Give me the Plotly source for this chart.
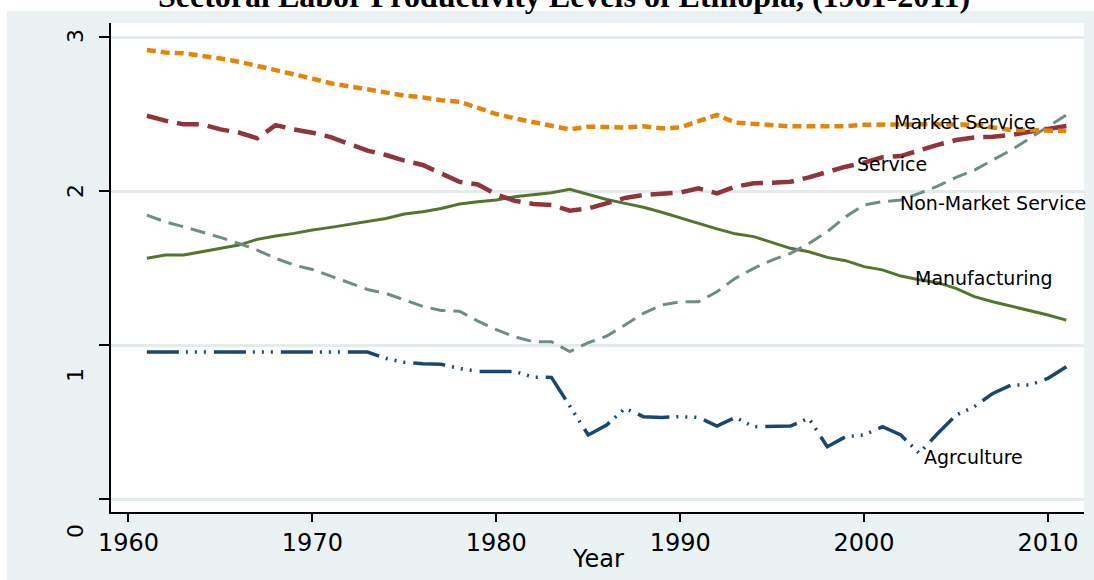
import plotly.graph_objects as go

years = list(range(1961, 2012))

market_service = [2.916, 2.900, 2.894, 2.880, 2.861, 2.840, 2.814, 2.786, 2.760, 2.730,
                  2.700, 2.680, 2.656, 2.634, 2.620, 2.608, 2.590, 2.580, 2.537, 2.500,
                  2.472, 2.448, 2.424, 2.400, 2.418, 2.413, 2.413, 2.420, 2.407, 2.413,
                  2.450, 2.494, 2.444, 2.435, 2.430, 2.420, 2.420, 2.420, 2.420, 2.430,
                  2.433, 2.433, 2.433, 2.433, 2.433, 2.430, 2.413, 2.396, 2.396, 2.390,
                  2.390]

service = [2.489, 2.457, 2.433, 2.433, 2.400, 2.380, 2.342, 2.428, 2.400, 2.379,
           2.350, 2.303, 2.262, 2.234, 2.197, 2.169, 2.115, 2.060, 2.043, 1.978,
           1.937, 1.916, 1.909, 1.872, 1.887, 1.924, 1.955, 1.974, 1.985, 1.990,
           2.017, 1.985, 2.028, 2.050, 2.054, 2.060, 2.089, 2.126, 2.158, 2.184,
           2.219, 2.227, 2.266, 2.300, 2.331, 2.348, 2.353, 2.364, 2.385, 2.407,
           2.422]

non_market_service = [1.844, 1.800, 1.768, 1.736, 1.699, 1.660, 1.617, 1.563, 1.519, 1.491,
                      1.448, 1.400, 1.361, 1.335, 1.292, 1.251, 1.225, 1.220, 1.155, 1.100,
                      1.054, 1.022, 1.022, 0.957, 1.015, 1.058, 1.130, 1.206, 1.260, 1.281,
                      1.281, 1.346, 1.433, 1.498, 1.552, 1.595, 1.660, 1.736, 1.833, 1.909,
                      1.931, 1.942, 1.985, 2.032, 2.089, 2.136, 2.201, 2.266, 2.342, 2.418,
                      2.494]

manufacturing = [1.563, 1.584, 1.584, 1.606, 1.628, 1.649, 1.686, 1.708, 1.725, 1.747,
                 1.764, 1.784, 1.800, 1.822, 1.851, 1.866, 1.887, 1.916, 1.931, 1.942,
                 1.963, 1.978, 1.989, 2.011, 1.978, 1.945, 1.920, 1.895, 1.862, 1.828,
                 1.790, 1.754, 1.722, 1.704, 1.665, 1.628, 1.606, 1.569, 1.548, 1.509,
                 1.488, 1.448, 1.424, 1.405, 1.368, 1.314, 1.281, 1.253, 1.227, 1.195,
                 1.162]

agriculture = [0.955, 0.955, 0.955, 0.955, 0.955, 0.955, 0.955, 0.955, 0.955, 0.955,
               0.955, 0.955, 0.955, 0.913, 0.888, 0.878, 0.875, 0.848, 0.829, 0.829,
               0.829, 0.792, 0.790, 0.604, 0.416, 0.480, 0.589, 0.535, 0.530, 0.535,
               0.530, 0.474, 0.530, 0.470, 0.470, 0.474, 0.524, 0.340, 0.405, 0.416,
               0.470, 0.416, 0.297, 0.426, 0.545, 0.600, 0.686, 0.740, 0.740, 0.784,
               0.859]

x_ticks = [1960, 1970, 1980, 1990, 2000, 2010]
y_ticks = [0, 1, 2, 3]
title_text = "Sectoral Labor Productivity Levels of Ethiopia, (1961-2011)"
x_title = "Year"

series = [
    ("Agrculture", agriculture, "#1A476F", 3.5, "32px,7px,2px,7px,2px,7px,2px,8px", 2003.15, 0.275),
    ("Manufacturing", manufacturing, "#55752F", 3, "solid", 2002.66, 1.435),
    ("Non-Market Service", non_market_service, "#6E8E84", 3, "15px,8px", 2001.84, 1.924),
    ("Service", service, "#90353B", 4.5, "22px,9px", 1999.5, 2.175),
    ("Market Service", market_service, "#E3850A", 4.5, "9px,5px", 2001.52, 2.45),
]

fig = go.Figure()
for name, vals, color, width, dash, lx, ly in series:
    fig.add_trace(go.Scatter(x=years, y=vals, mode="lines", name=name,
                             line=dict(color=color, width=width, dash=dash),
                             showlegend=False))

annotations = []
for name, vals, color, width, dash, lx, ly in series:
    annotations.append(dict(x=lx, y=ly, xref="x", yref="y", text=name, showarrow=False,
                            xanchor="left", yanchor="middle",
                            font=dict(family="DejaVu Sans", size=19, color="#000000")))

# rotated y tick labels
y_shift = {0: -32, 1: -30, 2: 0, 3: 1}
for v in y_ticks:
    annotations.append(dict(x=-0.037, y=v, xref="paper", yref="y", text=str(v),
                            showarrow=False, textangle=-90, xanchor="center", yanchor="middle",
                            yshift=y_shift[v],
                            font=dict(family="DejaVu Sans", size=22, color="#000000")))

# x axis title
annotations.append(dict(x=0.5, y=-0.097, xref="paper", yref="paper", text=x_title,
                        showarrow=False, xanchor="center", yanchor="middle",
                        font=dict(family="DejaVu Sans", size=24, color="#000000")))

annotations.append(dict(x=0.466, y=1.055, xref="paper", yref="paper", text="<b>" + title_text + "</b>",
                        showarrow=False, xanchor="center", yanchor="middle",
                        font=dict(family="Liberation Serif", size=32, color="#000000")))

fig.update_layout(
    width=1094, height=580,
    margin=dict(l=111, r=10, t=23, b=68),
    paper_bgcolor="#EAF2F3",
    plot_bgcolor="#FFFFFF",
    annotations=annotations,
    shapes=[
        dict(type="rect", xref="paper", yref="paper", x0=-0.2, x1=1.02,
             y0=1.0 + 12 / 489, y1=1.2, fillcolor="#FFFFFF", line=dict(width=0), layer="above"),
        dict(type="rect", xref="paper", yref="paper", x0=-0.2, x1=-(111 - 7) / 973,
             y0=-0.2, y1=1.2, fillcolor="#FFFFFF", line=dict(width=0), layer="above"),
    ],
    xaxis=dict(range=[1959.05, 2011.96], tickvals=x_ticks, ticks="outside", ticklen=8,
               tickwidth=1.5, tickcolor="#000000", showgrid=False, zeroline=False,
               showline=True, linecolor="#000000", linewidth=2,
               tickfont=dict(family="DejaVu Sans", size=24, color="#000000")),
    yaxis=dict(range=[-0.084, 3.091], tickvals=y_ticks, ticks="outside", ticklen=10,
               tickwidth=1.5, tickcolor="#000000", showticklabels=False,
               showgrid=True, gridcolor="#E3EBEF", gridwidth=2.5, zeroline=False,
               showline=True, linecolor="#000000", linewidth=2),
)

fig.write_html("out.html", config={"displayModeBar": False},
               post_script="document.body.style.margin='0';document.body.style.overflow='hidden';")
